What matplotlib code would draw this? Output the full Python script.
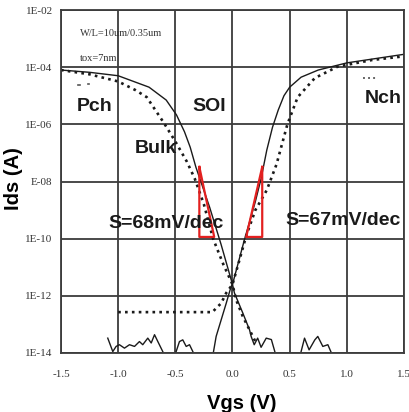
import numpy as np
import matplotlib
matplotlib.use("Agg")
import matplotlib.pyplot as plt

# ── Data (Vgs in V, Ids given as log10(A)) ────────────────────────────────────
pch_soi_v   = [-1.5, -1.25, -1.0, -0.73, -0.58, -0.49, -0.42, -0.37, -0.32, -0.2, -0.1, 0.0,
               0.017, 0.09, 0.149, 0.163, 0.19, 0.22, 0.25, 0.295, 0.34, 0.37]
pch_soi_log = [-4.1, -4.18, -4.3, -4.7, -5.15, -5.67, -6.26, -6.8, -7.5, -8.9, -10.2, -11.6,
               -11.9, -12.6, -13.19, -13.42, -13.71, -13.48, -13.8, -13.48, -13.53, -13.95]

pch_bulk_v   = [-1.5, -1.25, -1.0, -0.85, -0.75, -0.6, -0.5, -0.4, -0.33, -0.25, -0.17, -0.08,
                0.0, 0.032, 0.09, 0.149, 0.2]
pch_bulk_log = [-4.1, -4.25, -4.5, -4.8, -5.05, -5.95, -6.6, -7.3, -7.9, -8.8, -10.0, -10.9,
                -11.6, -12.14, -12.72, -13.19, -13.6]

nch_soi_v   = [-0.166, -0.143, -0.099, -0.055, -0.012, 0.0, 0.1, 0.2, 0.25, 0.3, 0.35, 0.4,
               0.45, 0.5, 0.6, 0.75, 1.0, 1.25, 1.5]
nch_soi_log = [-13.95, -13.42, -12.84, -12.26, -11.67, -11.6, -10.1, -8.7, -7.9, -6.9, -6.1,
               -5.5, -5.0, -4.7, -4.35, -4.1, -3.85, -3.7, -3.55]

nch_bulk_v   = [-1.0, -0.6, -0.175, -0.143, -0.099, -0.055, 0.0, 0.05, 0.12, 0.2, 0.3, 0.385,
                0.48, 0.57, 0.72, 0.92, 1.22, 1.5]
nch_bulk_log = [-12.57, -12.57, -12.57, -12.43, -12.26, -11.9, -11.6, -10.9, -9.9, -9.0, -8.3,
                -7.4, -6.0, -5.05, -4.38, -3.98, -3.75, -3.62]

# measurement noise floor (solid)
noise_a_v   = [-1.091, -1.047, -1.018, -0.989, -0.945, -0.901, -0.857, -0.814, -0.785, -0.741,
               -0.711, -0.682, -0.653, -0.610]
noise_a_log = [-13.48, -13.95, -13.77, -13.71, -13.83, -13.71, -13.77, -13.60, -13.71, -13.48,
               -13.65, -13.36, -13.60, -13.95]
noise_b_v   = [-0.493, -0.464, -0.435, -0.405, -0.376, -0.347]
noise_b_log = [-13.95, -13.60, -13.54, -13.77, -13.71, -13.95]
noise_c_v   = [0.60, 0.63, 0.67, 0.72, 0.746, 0.79, 0.834, 0.86]
noise_c_log = [-13.95, -13.48, -13.89, -13.54, -13.42, -13.77, -13.71, -13.95]

# slope triangles
tri_left_v    = [-0.29, -0.29, -0.16, -0.29]
tri_left_log  = [-7.49, -9.94, -9.94, -7.49]
tri_right_v   = [0.26, 0.26, 0.12, 0.26]
tri_right_log = [-7.49, -9.94, -9.94, -7.49]

y_ticks  = [1e-14, 1e-12, 1e-10, 1e-8, 1e-6, 1e-4, 1e-2]
y_labels = ["1E-14", "1E-12", "1E-10", "E-08", "1E-06", "1E-04", "1E-02"]
x_ticks  = [-1.5, -1.0, -0.5, 0.0, 0.5, 1.0, 1.5]
x_labels = ["-1.5", "-1.0", "-0.5", "0.0", "0.5", "1.0", "1.5"]

# ── Figure ────────────────────────────────────────────────────────────────────
C_LINE = "#1a1a1a"
C_GRID = "#3c3c3c"
C_RED  = "#e3201f"
DOTS   = (0, (1, 1.6))

fig = plt.figure(figsize=(4.10, 4.12), dpi=100)
ax = fig.add_axes([61 / 410, 59 / 412, 343 / 410, 343 / 412])
ax.set_yscale("log")


def lin(vals):
    return 10.0 ** np.asarray(vals)


ax.plot(pch_soi_v, lin(pch_soi_log), color=C_LINE, lw=1.0)
ax.plot(nch_soi_v, lin(nch_soi_log), color=C_LINE, lw=1.0)
ax.plot(pch_bulk_v, lin(pch_bulk_log), color=C_LINE, lw=1.9, ls=DOTS)
ax.plot(nch_bulk_v, lin(nch_bulk_log), color=C_LINE, lw=1.9, ls=DOTS)
for xs, ys in [(noise_a_v, noise_a_log), (noise_b_v, noise_b_log), (noise_c_v, noise_c_log)]:
    ax.plot(xs, lin(ys), color=C_LINE, lw=1.0)

ax.plot(tri_left_v, lin(tri_left_log), color=C_RED, lw=1.6)
ax.plot(tri_right_v, lin(tri_right_log), color=C_RED, lw=1.6)

# legend fragments left in the original
ax.plot([-1.35, -1.33], lin([-4.62, -4.62]), color="#555555", lw=1.2)
ax.plot([-1.26, -1.255], lin([-4.58, -4.58]), color="#555555", lw=1.2)
ax.plot([1.14, 1.27], lin([-4.38, -4.38]), color="#666666", lw=1.4, ls=DOTS)

ax.set_xlim(-1.5, 1.5)
ax.set_ylim(1e-14, 1e-2)
ax.set_xticks(x_ticks)
ax.set_xticklabels(x_labels)
ax.set_yticks(y_ticks)
ax.set_yticklabels(y_labels)
ax.minorticks_off()
ax.tick_params(length=0, labelsize=8, colors="#333333")
ax.tick_params(axis="x", pad=12)
ax.tick_params(axis="y", pad=6)
for lab in ax.get_xticklabels() + ax.get_yticklabels():
    lab.set_family("Liberation Serif")
ax.grid(True, color=C_GRID, lw=1.3)
for sp in ax.spines.values():
    sp.set_color(C_GRID)
    sp.set_linewidth(1.3)

ax.set_xlabel("Vgs (V)", fontsize=14.5, fontweight="bold", family="Liberation Sans")
ax.set_ylabel("Ids (A)", fontsize=14.5, fontweight="bold", family="Liberation Sans")
ax.xaxis.set_label_coords(0.528, -0.12)
ax.yaxis.set_label_coords(-0.111, 0.51)


def put(x, logy, s, **kw):
    ax.text(x, 10 ** logy, s, ha="left", va="baseline", **kw)


bold = dict(fontsize=14, fontweight="bold", family="Liberation Sans", color="#1a1a1a")
put(-1.36, -5.53, "Pch", **bold)
put(-0.354, -5.53, "SOI", **bold)
put(1.16, -5.25, "Nch", **bold)
put(-0.853, -7.0, "Bulk", **bold)
put(-1.089, -9.63, "S=68mV/dec", **bold)
put(0.459, -9.52, "S=67mV/dec", **bold)

small = dict(fontsize=7.5, family="Liberation Serif", color="#333333")
put(-1.334, -2.91, "W/L=10um/0.35um", **small)
put(-1.334, -3.78, "tox=7nm", **small)

fig.savefig("out.png", dpi=100)
